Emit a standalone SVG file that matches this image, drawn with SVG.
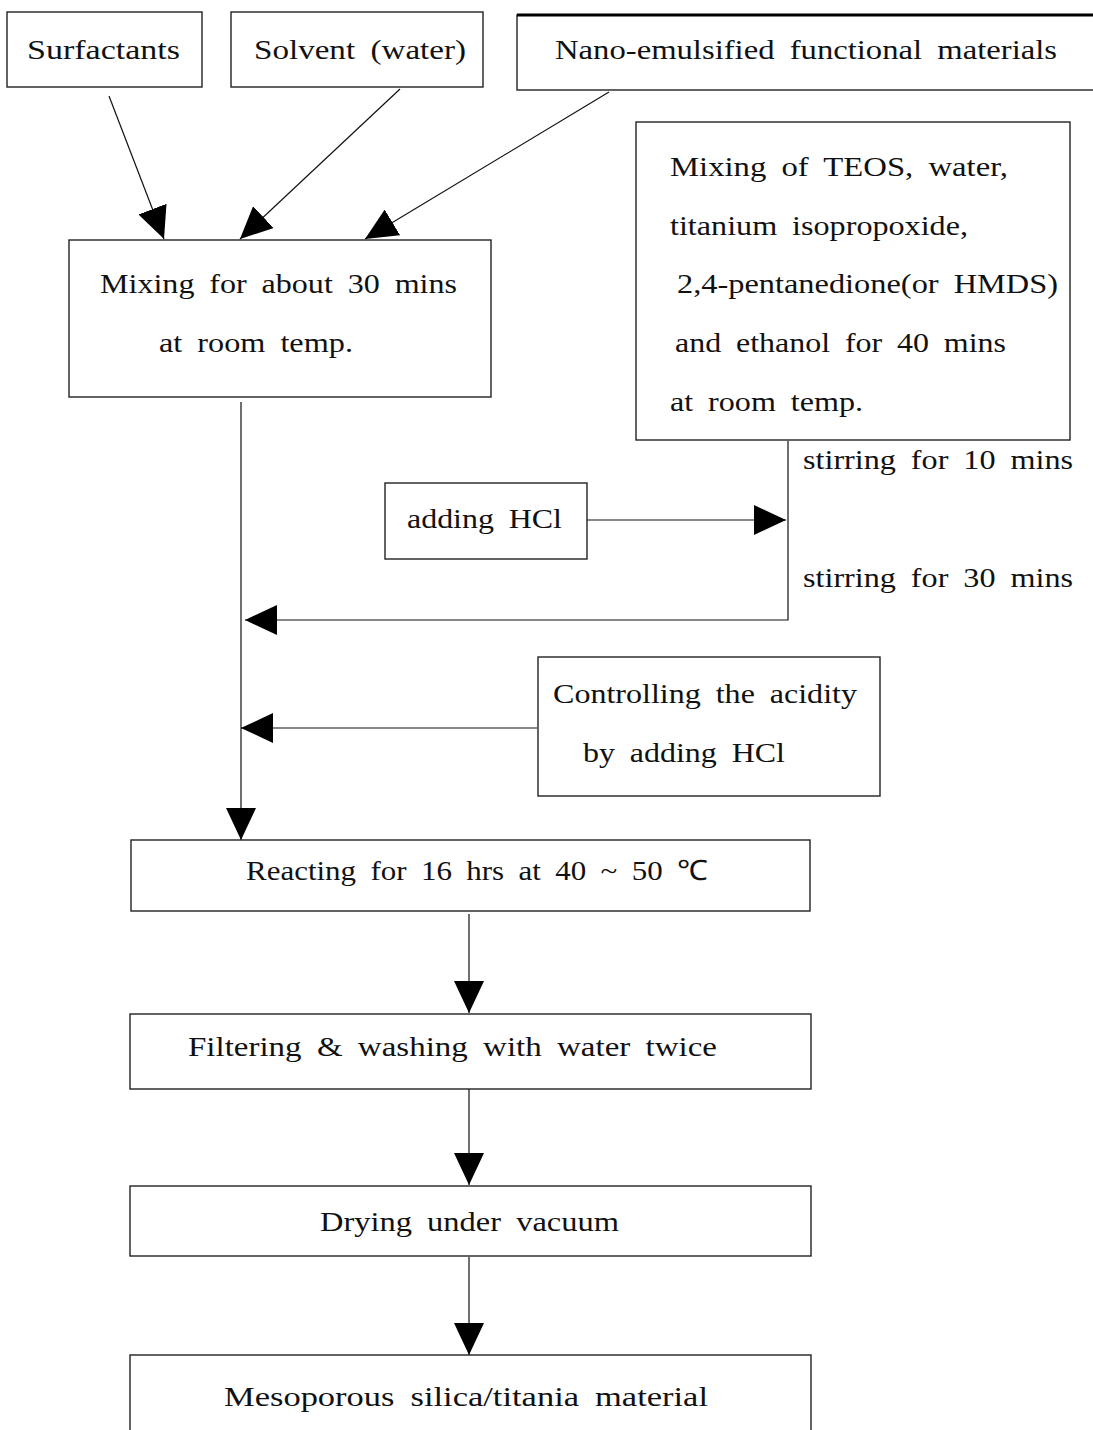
<svg xmlns="http://www.w3.org/2000/svg" width="1093" height="1430" viewBox="0 0 1093 1430">
<style>
.box{fill:#fff;stroke:#222;stroke-width:1.4}
.t{font-family:"Liberation Serif","Times New Roman",serif;font-size:28px;fill:#111;word-spacing:6px}
.c{stroke:#111;stroke-width:1.2;fill:none}
</style>
<defs>
<marker id="ah" viewBox="0 0 32 30" refX="32" refY="15" markerWidth="32" markerHeight="30" orient="auto" markerUnits="userSpaceOnUse">
<path d="M0,0 L32,15 L0,30 Z" fill="#000"/>
</marker>
</defs>
<rect width="1093" height="1430" fill="#fff"/>
<g id="connectors">
<line class="c" x1="109" y1="96" x2="164" y2="239" marker-end="url(#ah)"/>
<line class="c" x1="400" y1="89" x2="240" y2="239" marker-end="url(#ah)"/>
<line class="c" x1="609" y1="92" x2="365" y2="239" marker-end="url(#ah)"/>
<line class="c" x1="241" y1="402" x2="241" y2="840" marker-end="url(#ah)"/>
<polyline class="c" points="788,441 788,620 245,620" marker-end="url(#ah)"/>
<line class="c" x1="587" y1="520" x2="786" y2="520" marker-end="url(#ah)"/>
<line class="c" x1="537" y1="728" x2="241" y2="728" marker-end="url(#ah)"/>
<line class="c" x1="469" y1="914" x2="469" y2="1013" marker-end="url(#ah)"/>
<line class="c" x1="469" y1="1089" x2="469" y2="1185" marker-end="url(#ah)"/>
<line class="c" x1="469" y1="1257" x2="469" y2="1355" marker-end="url(#ah)"/>
</g>
<g id="surfactants">
<rect class="box" x="7" y="12" width="195" height="75"/>
<text class="t" x="27" y="59" textLength="153" lengthAdjust="spacingAndGlyphs">Surfactants</text>
</g>
<g id="solvent">
<rect class="box" x="231" y="12" width="252" height="75"/>
<text class="t" x="254" y="59" textLength="212" lengthAdjust="spacingAndGlyphs">Solvent (water)</text>
</g>
<g id="nano">
<rect class="box" x="517" y="15" width="590" height="75"/>
<line x1="517" y1="15" x2="1093" y2="15" stroke="#000" stroke-width="3"/>
<text class="t" x="555" y="59" textLength="502" lengthAdjust="spacingAndGlyphs">Nano-emulsified functional materials</text>
</g>
<g id="mixing">
<rect class="box" x="69" y="240" width="422" height="157"/>
<text class="t" x="100" y="293" textLength="357" lengthAdjust="spacingAndGlyphs">Mixing for about 30 mins</text>
<text class="t" x="159" y="352" textLength="194" lengthAdjust="spacingAndGlyphs">at room temp.</text>
</g>
<g id="teos">
<rect class="box" x="636" y="122" width="434" height="318"/>
<text class="t" x="670" y="176" textLength="338" lengthAdjust="spacingAndGlyphs">Mixing of TEOS, water,</text>
<text class="t" x="670" y="235" textLength="298" lengthAdjust="spacingAndGlyphs">titanium isopropoxide,</text>
<text class="t" x="677" y="293" textLength="381" lengthAdjust="spacingAndGlyphs">2,4-pentanedione(or HMDS)</text>
<text class="t" x="675" y="352" textLength="331" lengthAdjust="spacingAndGlyphs">and ethanol for 40 mins</text>
<text class="t" x="670" y="411" textLength="193" lengthAdjust="spacingAndGlyphs">at room temp.</text>
</g>
<g id="stir-labels">
<text class="t" x="803" y="469" textLength="270" lengthAdjust="spacingAndGlyphs">stirring for 10 mins</text>
<text class="t" x="803" y="587" textLength="270" lengthAdjust="spacingAndGlyphs">stirring for 30 mins</text>
</g>
<g id="adding-hcl">
<rect class="box" x="385" y="483" width="202" height="76"/>
<text class="t" x="407" y="528" textLength="155" lengthAdjust="spacingAndGlyphs">adding HCl</text>
</g>
<g id="controlling">
<rect class="box" x="538" y="657" width="342" height="139"/>
<text class="t" x="553" y="703" textLength="304" lengthAdjust="spacingAndGlyphs">Controlling the acidity</text>
<text class="t" x="583" y="762" textLength="202" lengthAdjust="spacingAndGlyphs">by adding HCl</text>
</g>
<g id="reacting">
<rect class="box" x="131" y="840" width="679" height="71"/>
<text class="t" x="246" y="880" textLength="462" lengthAdjust="spacingAndGlyphs">Reacting for 16 hrs at 40 ~ 50 ℃</text>
</g>
<g id="filtering">
<rect class="box" x="130" y="1014" width="681" height="75"/>
<text class="t" x="188" y="1056" textLength="529" lengthAdjust="spacingAndGlyphs">Filtering &amp; washing with water twice</text>
</g>
<g id="drying">
<rect class="box" x="130" y="1186" width="681" height="70"/>
<text class="t" x="320" y="1231" textLength="299" lengthAdjust="spacingAndGlyphs">Drying under vacuum</text>
</g>
<g id="mesoporous">
<rect class="box" x="130" y="1355" width="681" height="90"/>
<text class="t" x="224" y="1406" textLength="484" lengthAdjust="spacingAndGlyphs">Mesoporous silica/titania material</text>
</g>
</svg>
